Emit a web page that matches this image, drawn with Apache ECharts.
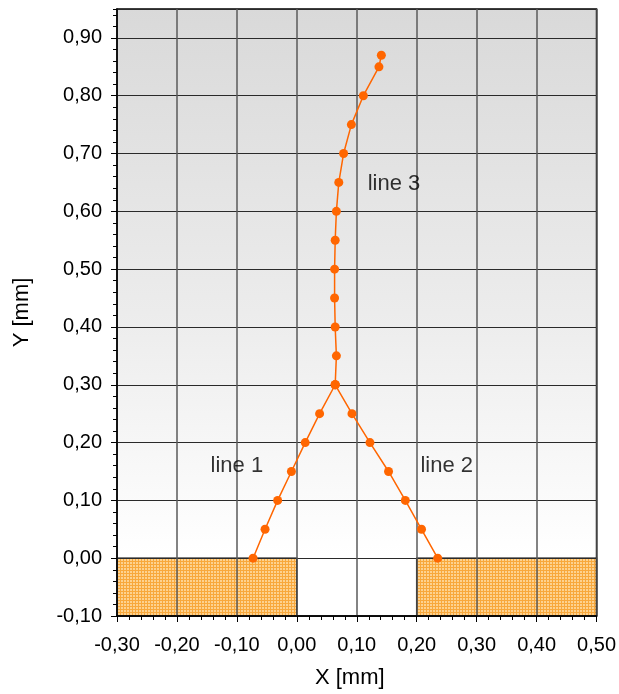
<!DOCTYPE html>
<html><head><meta charset="utf-8">
<script src="https://cdn.jsdelivr.net/npm/echarts@6/dist/echarts.min.js"></script>
<style>html,body{margin:0;padding:0;background:#fff}#c{width:619px;height:694px}</style>
</head><body><div id="c"></div>
<script>
const line1X = [-0.073, -0.053, -0.032, -0.009, 0.014, 0.038, 0.064];
const line1Y = [0.00, 0.05, 0.10, 0.15, 0.20, 0.25, 0.30];
const line2X = [0.064, 0.092, 0.122, 0.153, 0.181, 0.208, 0.235];
const line2Y = [0.30, 0.25, 0.20, 0.15, 0.10, 0.05, 0.00];
const line3X = [0.064, 0.066, 0.064, 0.063, 0.063, 0.064, 0.066, 0.070, 0.078, 0.091, 0.111, 0.137, 0.141];
const line3Y = [0.30, 0.35, 0.40, 0.45, 0.50, 0.55, 0.60, 0.65, 0.70, 0.75, 0.80, 0.85, 0.87];
const zoneX = [[-0.30, 0.00], [0.20, 0.50]];
const zoneY = [-0.10, 0.00];
const labelNames = ['line 1', 'line 2', 'line 3'];
const labelX = [-0.10, 0.25, 0.162];
const labelY = [0.16, 0.16, 0.648];

const zip = (xs, ys) => xs.map((x, i) => [x, ys[i]]);
const fmt = v => v.toFixed(2).replace('.', ',');

const pc = document.createElement('canvas');
pc.width = 3; pc.height = 3;
const g = pc.getContext('2d');
g.fillStyle = '#fdd290'; g.fillRect(0, 0, 3, 3);
g.fillStyle = '#f8a83c'; g.fillRect(0, 0, 3, 1); g.fillRect(0, 0, 1, 3);

const FONT = 'Liberation Sans';
const orange = '#ff6600';
const lineSeries = (name, data) => ({
  name, type: 'line', data, z: 3,
  symbol: 'circle', symbolSize: 9,
  lineStyle: { color: orange, width: 1.5 },
  itemStyle: { color: orange },
  silent: true
});

const chart = echarts.init(document.getElementById('c'));
chart.setOption({
  animation: false,
  textStyle: { fontFamily: FONT, color: '#000' },
  grid: {
    left: 117, right: 22, top: 9, bottom: 77,
    show: true, borderColor: '#000', borderWidth: 1.5,
    backgroundColor: new echarts.graphic.LinearGradient(0, 0, 0, 1, [
      { offset: 0, color: '#d9d9d9' },
      { offset: 0.5, color: '#ececec' },
      { offset: 0.9, color: '#ffffff' },
      { offset: 1, color: '#ffffff' }
    ])
  },
  xAxis: [{
    type: 'value', min: -0.3, max: 0.5, interval: 0.1, z: 2,
    axisLine: { onZero: false, lineStyle: { color: '#000', width: 1.5 } },
    axisTick: { length: 6, lineStyle: { color: '#000', width: 1 } },
    axisLabel: { fontSize: 20, color: '#000', margin: 19, formatter: fmt, fontFamily: FONT },
    splitLine: { show: true, lineStyle: { color: '#5a5a5a', width: 1.5 } },
    name: 'X [mm]', nameLocation: 'middle', nameGap: 51,
    nameTextStyle: { fontSize: 22, color: '#000', fontFamily: FONT, padding: [0, 14, 0, 0] }
  }, {
    type: 'value', min: -0.3, max: 0.5, interval: 0.02, position: 'bottom', z: 2,
    axisLine: { show: false, onZero: false },
    axisTick: { length: 4, lineStyle: { color: '#000', width: 1 } },
    axisLabel: { show: false }, splitLine: { show: false }
  }],
  yAxis: [{
    type: 'value', min: -0.1, max: 0.95, interval: 0.1, z: 2,
    axisLine: { show: true, onZero: false, lineStyle: { color: '#000', width: 1.5 } },
    axisTick: { show: true, length: 6, lineStyle: { color: '#000', width: 1 } },
    axisLabel: { fontSize: 20, color: '#000', margin: 15, formatter: fmt, fontFamily: FONT, showMaxLabel: false },
    splitLine: { show: true, lineStyle: { color: '#2a2a2a', width: 1 } },
    name: 'Y [mm]', nameLocation: 'middle', nameGap: 84,
    nameTextStyle: { fontSize: 22, color: '#000', fontFamily: FONT }
  }, {
    type: 'value', min: -0.1, max: 0.95, interval: 0.02, position: 'left', z: 2,
    axisLine: { show: false, onZero: false },
    axisTick: { show: true, length: 4, lineStyle: { color: '#000', width: 1 } },
    axisLabel: { show: false }, splitLine: { show: false }
  }],
  series: [
    {
      name: 'zones', type: 'line', data: [], z: 1, silent: true,
      markArea: {
        silent: true,
        itemStyle: { color: { image: pc, repeat: 'repeat' }, borderColor: '#000', borderWidth: 1.5 },
        data: zoneX.map(z => [{ coord: [z[0], zoneY[0]] }, { coord: [z[1], zoneY[1]] }])
      }
    },
    lineSeries('line 1', zip(line1X, line1Y)),
    lineSeries('line 2', zip(line2X, line2Y)),
    lineSeries('line 3', zip(line3X, line3Y)),
    {
      name: 'labels', type: 'scatter', z: 4, silent: true,
      symbolSize: 0,
      data: labelNames.map((n, i) => ({ name: n, value: [labelX[i], labelY[i]] })),
      label: { show: true, position: 'inside', formatter: p => p.name, fontSize: 22, color: '#000', fontFamily: FONT }
    }
  ]
});
</script>
</body></html>
